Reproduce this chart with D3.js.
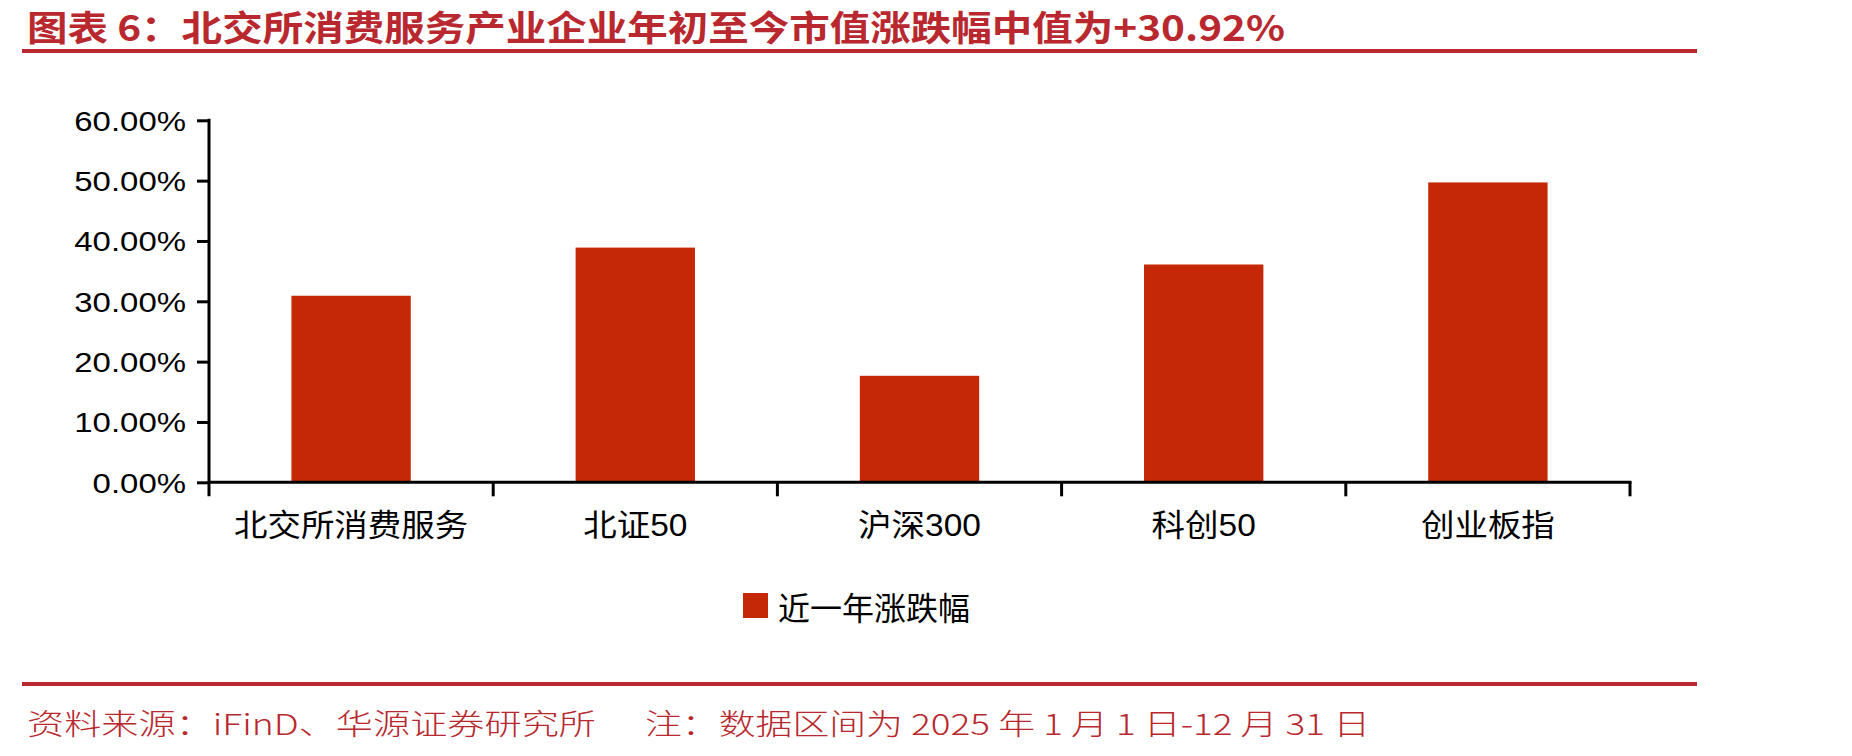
<!DOCTYPE html>
<html>
<head>
<meta charset="utf-8">
<script src="https://cdn.jsdelivr.net/npm/d3@7"></script>
<style>
  html, body { margin: 0; padding: 0; background: #fff; }
  svg { display: block; }
</style>
</head>
<body>
<div class="root"></div>
<script>
const categories = ['北交所消费服务', '北证50', '沪深300', '科创50', '创业板指']
const values = [30.92, 38.9, 17.65, 36.1, 49.7]
const yTicks = [0, 10, 20, 30, 40, 50, 60]
const seriesName = '近一年涨跌幅'
const titleText = '图表 6：北交所消费服务产业企业年初至今市值涨跌幅中值为+30.92%'
const sourceText = '资料来源：iFinD、华源证券研究所'
const noteText = '注：数据区间为 2025 年 1 月 1 日-12 月 31 日'

const width = 1852
    , height = 756
    , red = '#b8282e'
    , barColor = '#c52806'
    , plot = { left: 209, right: 1630, top: 120.3, bottom: 482.3 }

const svg = d3.select('.root')
              .append('svg')
              .attr('width', width)
              .attr('height', height)

// header / footer rules and texts
svg.append('text')
   .attr('x', 27)
   .attr('y', 25)
   .attr('dominant-baseline', 'central')
   .attr('textLength', 1258)
   .attr('lengthAdjust', 'spacingAndGlyphs')
   .style('font-family', '"Noto Sans CJK SC", sans-serif')
   .style('font-weight', 700)
   .style('font-size', '35px')
   .style('fill', red)
   .text(titleText)

svg.append('rect').attr('x', 22).attr('y', 49).attr('width', 1675).attr('height', 4).attr('fill', red)
svg.append('rect').attr('x', 22).attr('y', 682).attr('width', 1675).attr('height', 4).attr('fill', red)

svg.append('text')
   .attr('x', 27)
   .attr('y', 722)
   .attr('dominant-baseline', 'central')
   .attr('textLength', 569)
   .attr('lengthAdjust', 'spacingAndGlyphs')
   .style('font-family', '"Noto Sans CJK SC", sans-serif')
   .style('font-weight', 300)
   .style('font-size', '29px')
   .style('fill', red)
   .text(sourceText)

svg.append('text')
   .attr('x', 645)
   .attr('y', 722)
   .attr('dominant-baseline', 'central')
   .attr('textLength', 725)
   .attr('lengthAdjust', 'spacingAndGlyphs')
   .style('font-family', '"Noto Sans CJK SC", sans-serif')
   .style('font-weight', 300)
   .style('font-size', '29px')
   .style('fill', red)
   .text(noteText)

// scales
const x = d3.scaleBand()
            .domain(categories)
            .range([plot.left, plot.right])
            .paddingInner(0.58)
            .paddingOuter(0.29)

const y = d3.scaleLinear()
            .domain([0, 60])
            .range([plot.bottom, plot.top])

const canvas = svg.append('g').attr('class', 'canvas')

// bars
canvas.append('g')
      .selectAll('rect')
      .data(values)
      .enter()
      .append('rect')
      .attr('x', (d, i) => x(categories[i]))
      .attr('y', d => y(d))
      .attr('width', x.bandwidth())
      .attr('height', d => y(0) - y(d))
      .attr('fill', barColor)

// y axis
const yAxis = d3.axisLeft(y)
                .tickValues(yTicks)
                .tickSize(12)
                .tickFormat(d => d.toFixed(2) + '%')

const yg = canvas.append('g')
                 .attr('transform', `translate(${plot.left}, 0)`)
                 .call(yAxis)
yg.select('.domain').remove()
yg.selectAll('.tick line').attr('stroke', '#000').attr('stroke-width', 3)
yg.selectAll('.tick text')
  .attr('x', 0)
  .attr('dy', '0.36em')
  .attr('transform', 'translate(-23, 0) scale(1.22, 1)')
  .style('font-family', '"Liberation Sans", Arial, sans-serif')
  .style('font-size', '27px')
  .style('fill', '#000')

const tickDrop = 14
canvas.append('line')
      .attr('x1', plot.left).attr('x2', plot.left)
      .attr('y1', y(60) - 1.5).attr('y2', y(0) + tickDrop)
      .attr('stroke', '#000').attr('stroke-width', 3)

// x axis
const xAxis = d3.axisBottom(x).tickSize(0)
const xg = canvas.append('g')
                 .attr('transform', `translate(0, ${y(0)})`)
                 .call(xAxis)
xg.select('.domain').remove()
xg.selectAll('.tick text')
  .attr('y', 0)
  .attr('dy', '0.35em')
  .attr('transform', 'translate(0, 43) scale(1.08, 1)')
  .style('font-family', '"Liberation Sans", "Noto Sans CJK SC", sans-serif')
  .style('font-size', '31px')
  .style('fill', '#000')

canvas.append('line')
      .attr('x1', plot.left).attr('x2', plot.right + 1.5)
      .attr('y1', y(0)).attr('y2', y(0))
      .attr('stroke', '#000').attr('stroke-width', 3)

const boundaries = categories.map(c => x(c) - x.step() * x.paddingOuter())
boundaries.push(plot.right)
canvas.append('g')
      .selectAll('line')
      .data(boundaries.slice(1))
      .enter()
      .append('line')
      .attr('x1', d => d).attr('x2', d => d)
      .attr('y1', y(0)).attr('y2', y(0) + tickDrop)
      .attr('stroke', '#000').attr('stroke-width', 3)

// legend
const legend = svg.append('g').attr('transform', 'translate(743, 593)')
legend.append('rect')
      .attr('width', 25).attr('height', 25)
      .attr('fill', barColor)
legend.append('text')
      .attr('x', 35)
      .attr('y', 12.5)
      .attr('dominant-baseline', 'central')
      .style('font-family', '"Noto Sans CJK SC", sans-serif')
      .style('font-size', '32px')
      .style('fill', '#000')
      .text(seriesName)
</script>
</body>
</html>
